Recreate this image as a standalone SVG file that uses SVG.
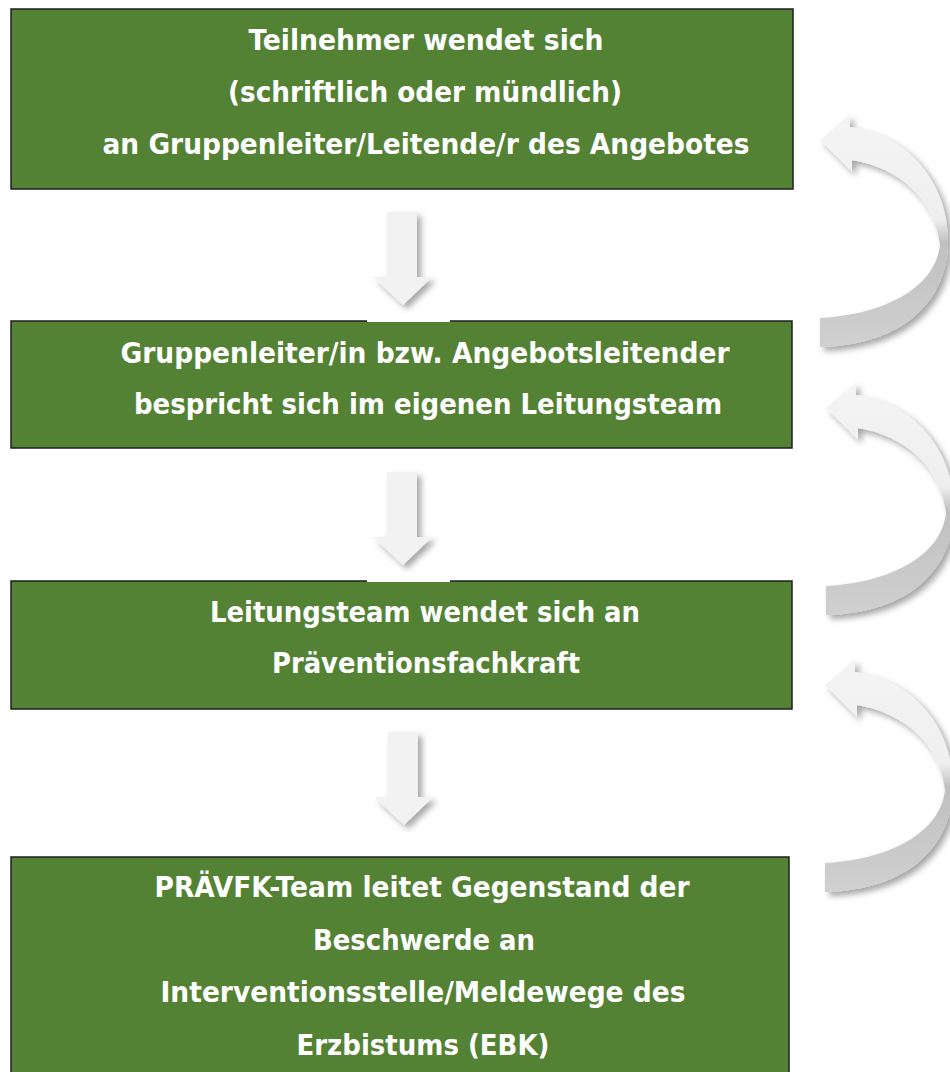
<svg xmlns="http://www.w3.org/2000/svg" width="950" height="1072" viewBox="0 0 950 1072">
<style>
.box{fill:#548235;stroke:#1e1e1e;stroke-width:1.5}
.t{font-family:"DejaVu Sans Condensed","DejaVu Sans",Verdana,sans-serif;font-weight:bold;font-size:28px;fill:#ffffff;text-anchor:middle}
.t2{font-size:29px}
.arr{fill:#f2f2f2;filter:url(#sh)}
</style>
<defs>
<filter id="sh" x="-30%" y="-30%" width="160%" height="160%">
<feDropShadow dx="4" dy="4" stdDeviation="3" flood-color="#000" flood-opacity="0.35"/>
</filter>
<linearGradient id="rib" x1="0" y1="0" x2="0" y2="1">
<stop offset="0" stop-color="#f4f4f4"/>
<stop offset="0.45" stop-color="#efefef"/>
<stop offset="0.55" stop-color="#c0c0c0"/>
<stop offset="1" stop-color="#d0d0d0"/>
</linearGradient>
<g id="curved">
<path d="M850,127 C910,135 948,185 948,240 C948,300 905,345 820,347 L820,318 C880,315 935,290 940,245 C935,200 900,168 852,160 L852,172 L820,140 L850,114 Z" fill="url(#rib)" filter="url(#sh)"/>
</g>
<path id="down" d="M0,0 H30 V65 H45 L16,93 L-14,65 H0 Z"/>
</defs>

<g id="node1">
<rect class="box" x="11" y="9" width="782" height="180"/>
<text class="t" x="426" y="50" textLength="355" lengthAdjust="spacingAndGlyphs">Teilnehmer wendet sich</text>
<text class="t" x="425" y="102" textLength="394" lengthAdjust="spacingAndGlyphs">(schriftlich oder mündlich)</text>
<text class="t" x="426" y="154" textLength="647" lengthAdjust="spacingAndGlyphs">an Gruppenleiter/Leitende/r des Angebotes</text>
</g>

<g id="node2">
<rect class="box" x="11" y="321" width="781" height="127"/>
<text class="t t2" x="425" y="363" textLength="609" lengthAdjust="spacingAndGlyphs">Gruppenleiter/in bzw. Angebotsleitender</text>
<text class="t t2" x="428" y="414" textLength="588" lengthAdjust="spacingAndGlyphs">bespricht sich im eigenen Leitungsteam</text>
</g>

<g id="node3">
<rect class="box" x="11" y="581" width="781" height="128"/>
<text class="t" x="425" y="622" textLength="430" lengthAdjust="spacingAndGlyphs">Leitungsteam wendet sich an</text>
<text class="t" x="426" y="673" textLength="308" lengthAdjust="spacingAndGlyphs">Präventionsfachkraft</text>
</g>

<g id="node4">
<rect class="box" x="11" y="857" width="778" height="230"/>
<text class="t" x="422" y="897" textLength="535" lengthAdjust="spacingAndGlyphs">PRÄVFK-Team leitet Gegenstand der</text>
<text class="t" x="424" y="950" textLength="222" lengthAdjust="spacingAndGlyphs">Beschwerde an</text>
<text class="t" x="423" y="1002" textLength="525" lengthAdjust="spacingAndGlyphs">Interventionsstelle/Meldewege des</text>
<text class="t" x="423" y="1055" textLength="253" lengthAdjust="spacingAndGlyphs">Erzbistums (EBK)</text>
</g>

<g id="connectors">
<rect x="367" y="319" width="83" height="3" fill="#ffffff"/>
<rect x="367" y="579" width="83" height="3" fill="#ffffff"/>
<use href="#down" x="387" y="212" class="arr"/>
<use href="#down" x="387" y="472" class="arr"/>
<use href="#down" x="388" y="732" class="arr"/>
<use href="#curved"/>
<use href="#curved" x="6" y="268"/>
<use href="#curved" x="5" y="545"/>
</g>
</svg>
